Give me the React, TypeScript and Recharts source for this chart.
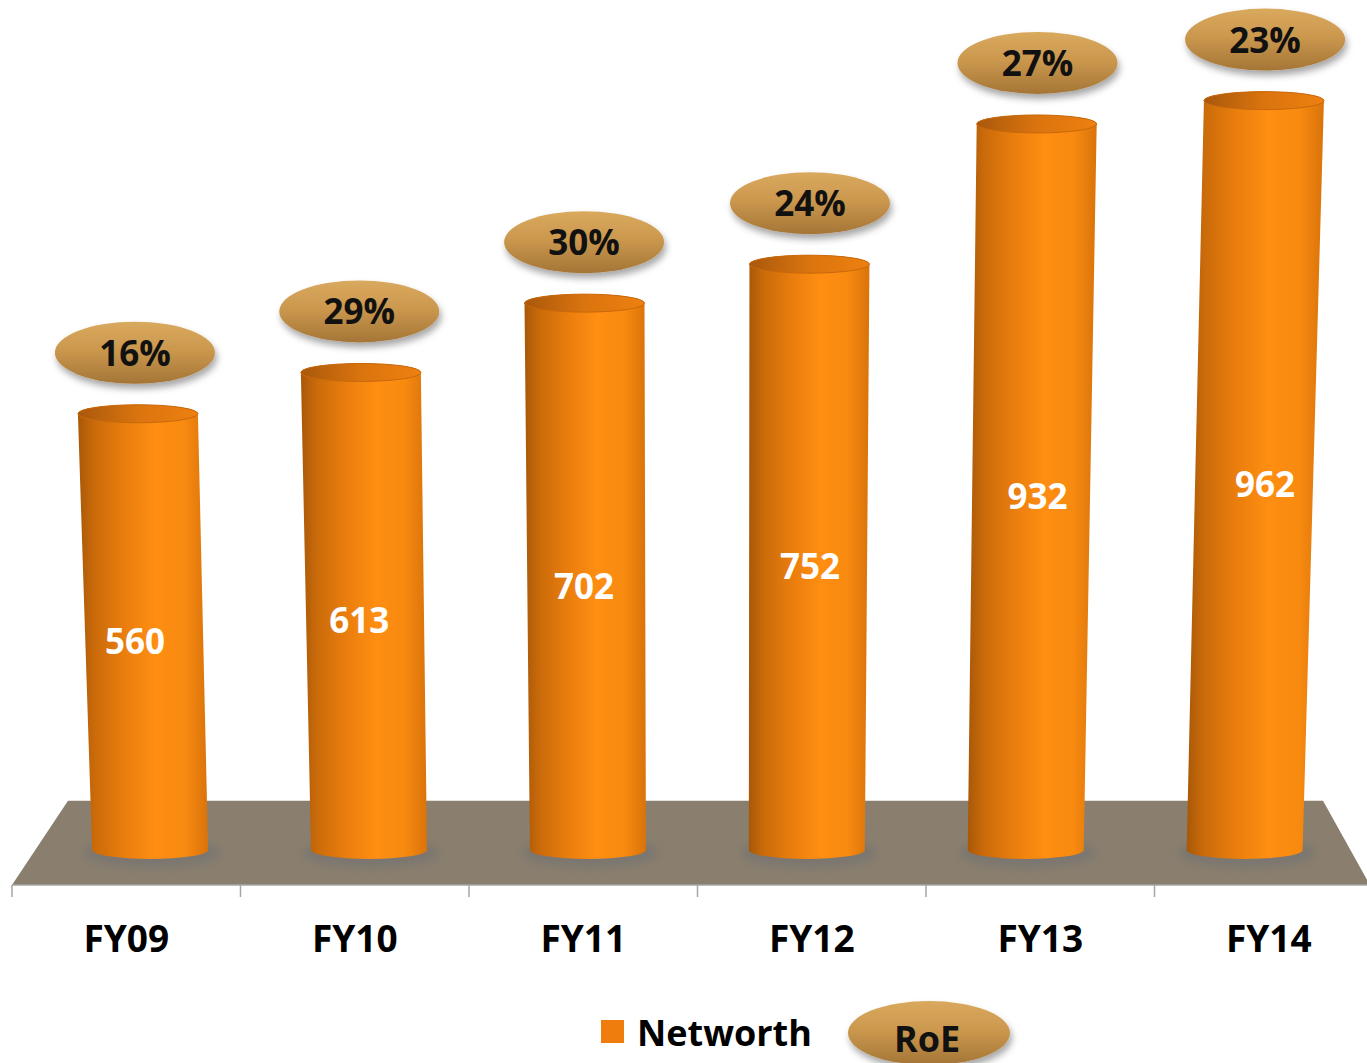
import React from 'react';
import { BarChart, Bar, XAxis, YAxis, ReferenceArea, LabelList, Legend } from 'recharts';

const categories = ['FY09', 'FY10', 'FY11', 'FY12', 'FY13', 'FY14'];
const networth = [560, 613, 702, 752, 932, 962];
const roe = [16, 29, 30, 24, 27, 23];
const legendLabels = ['Networth', 'RoE'];

const data = categories.map((name, i) => ({ name, networth: networth[i], roe: roe[i] }));

const W = 1367;
const H = 1063;
const BAND = 228.5;
const RY = 9;
const FONT = '"Open Sans", "Noto Sans", sans-serif';

function geom(x: number, y: number, width: number, height: number) {
  const cx = x + width / 2;
  const bcx = 700 + (cx - 700) * 0.958;
  const h = height + 2 * RY;
  const tcx = bcx + (bcx - 715) * 4.75e-5 * h;
  return { cx, bcx, tcx, yTop: y, yBot: y + height };
}

const Cylinder = (props: any) => {
  const { x, y, width, height } = props;
  if (x == null || height == null) return null;
  const { bcx, tcx, yTop, yBot } = geom(x, y, width, height);
  const tw = 60;
  const bw = 58;
  const d = `M ${tcx - tw} ${yTop} L ${bcx - bw} ${yBot} A ${bw} ${RY} 0 0 0 ${bcx + bw} ${yBot} L ${tcx + tw} ${yTop} A ${tw} ${RY} 0 0 0 ${tcx - tw} ${yTop} Z`;
  return (
    <g>
      <ellipse cx={bcx + 2} cy={yBot + 3} rx={68} ry={15} fill="#5f6674" opacity={0.35} filter="url(#blurShadow)" />
      <path d={d} fill="url(#cylBody)" />
      <ellipse cx={tcx} cy={yTop} rx={tw} ry={RY} fill="url(#cylCap)" stroke="#C8680C" strokeWidth={1} />
    </g>
  );
};

const ValueLabel = (props: any) => {
  const vb = props.viewBox || props;
  const { x, y, width, height } = vb;
  if (x == null) return null;
  const { cx, tcx, yTop, yBot } = geom(x, y, width, height);
  const yc = (yTop + yBot) / 2 + 10;
  const xc = 0.75 * tcx + 0.25 * cx;
  return (
    <text x={xc} y={yc + 12} textAnchor="middle" fontFamily={FONT} fontWeight={700} fontSize={35} fill="#FFFFFF">
      {props.value}
    </text>
  );
};

const RoeLabel = (props: any) => {
  const vb = props.viewBox || props;
  const { x, y, width, height } = vb;
  if (x == null) return null;
  const { cx, tcx, yTop } = geom(x, y, width, height);
  const ex = 0.75 * tcx + 0.25 * cx;
  const cy = yTop - 61;
  return (
    <g>
      <ellipse cx={ex} cy={cy} rx={80} ry={31} fill="url(#roeFill)" filter="url(#roeShadow)" />
      <text x={ex} y={cy + 13} textAnchor="middle" fontFamily={FONT} fontWeight={700} fontSize={35} fill="#111">
        {`${props.value}%`}
      </text>
    </g>
  );
};

const Floor = (props: any) => {
  const { x, y, width, height } = props;
  if (x == null) return null;
  const yb = y + height;
  const pts = `${x},${yb} ${x + 56},${y} ${x + width - 60},${y} ${x + width - 13},${yb}`;
  return <polygon points={pts} fill="#8A7F6E" />;
};

const Tick = (props: any) => {
  const { x, y, payload, index, visibleTicksCount } = props;
  return (
    <g>
      <line x1={x - BAND / 2} y1={y} x2={x - BAND / 2} y2={y + 12} stroke="#A6A6A6" strokeWidth={1.5} />
      {index === visibleTicksCount - 1 && (
        <line x1={x + BAND / 2} y1={y} x2={x + BAND / 2} y2={y + 12} stroke="#A6A6A6" strokeWidth={1.5} />
      )}
      <text x={x} y={y + 67} textAnchor="middle" fontFamily={FONT} fontWeight={700} fontSize={37} fill="#000">
        {payload.value}
      </text>
    </g>
  );
};

const LegendContent = () => (
  <svg width={1371} height={68} style={{ display: 'block', overflow: 'visible' }}>
    <rect x={589} y={25} width={23} height={23} fill="#EE7D0E" />
    <text x={625} y={51} fontFamily={FONT} fontWeight={700} fontSize={36} fill="#000">{legendLabels[0]}</text>
    <ellipse cx={917} cy={38} rx={81} ry={32} fill="url(#roeFill)" filter="url(#roeShadow)" />
    <text x={915} y={57} textAnchor="middle" fontFamily={FONT} fontWeight={700} fontSize={36} fill="#111">{legendLabels[1]}</text>
  </svg>
);

export default function App() {
  return (
    <div style={{ position: 'absolute', left: 0, top: 0, width: W, height: H, background: '#fff', overflow: 'hidden' }}>
      <svg width={0} height={0} style={{ position: 'absolute' }}>
        <defs>
          <linearGradient id="cylBody" x1="0" y1="0" x2="1" y2="0">
            <stop offset="0" stopColor="#A85808" />
            <stop offset="0.12" stopColor="#C96A0A" />
            <stop offset="0.35" stopColor="#E97D0D" />
            <stop offset="0.6" stopColor="#FF8E12" />
            <stop offset="0.82" stopColor="#F88A10" />
            <stop offset="1" stopColor="#D9730A" />
          </linearGradient>
          <linearGradient id="cylCap" x1="0" y1="0" x2="1" y2="0">
            <stop offset="0" stopColor="#A9580C" />
            <stop offset="0.5" stopColor="#DA740E" />
            <stop offset="1" stopColor="#EE8010" />
          </linearGradient>
          <linearGradient id="roeFill" x1="0" y1="0" x2="0" y2="1">
            <stop offset="0" stopColor="#D9A95E" />
            <stop offset="0.45" stopColor="#CB984E" />
            <stop offset="1" stopColor="#A47536" />
          </linearGradient>
          <filter id="roeShadow" x="-20%" y="-30%" width="140%" height="180%">
            <feDropShadow dx="2" dy="5" stdDeviation="3.5" floodColor="#000" floodOpacity="0.35" />
          </filter>
          <filter id="blurShadow" x="-30%" y="-100%" width="160%" height="300%">
            <feGaussianBlur stdDeviation="4" />
          </filter>
        </defs>
      </svg>
      <BarChart width={W} height={H} data={data} margin={{ top: 71, right: -16, left: 12, bottom: 0 }}>
        <YAxis hide type="number" domain={[-45, 1000]} allowDataOverflow />
        <XAxis
          dataKey="name"
          height={110}
          tickSize={0}
          tickMargin={0}
          interval={0}
          axisLine={{ stroke: '#A6A6A6', strokeWidth: 1.5 }}
          tickLine={false}
          tick={<Tick />}
        />
        <ReferenceArea y1={-45} y2={63} ifOverflow="visible" shape={<Floor />} />
        <Bar dataKey="networth" barSize={116} shape={<Cylinder />} isAnimationActive={false}>
          <LabelList dataKey="networth" content={<ValueLabel />} />
          <LabelList dataKey="roe" content={<RoeLabel />} />
        </Bar>
        <Legend verticalAlign="bottom" content={<LegendContent />} />
      </BarChart>
    </div>
  );
}
